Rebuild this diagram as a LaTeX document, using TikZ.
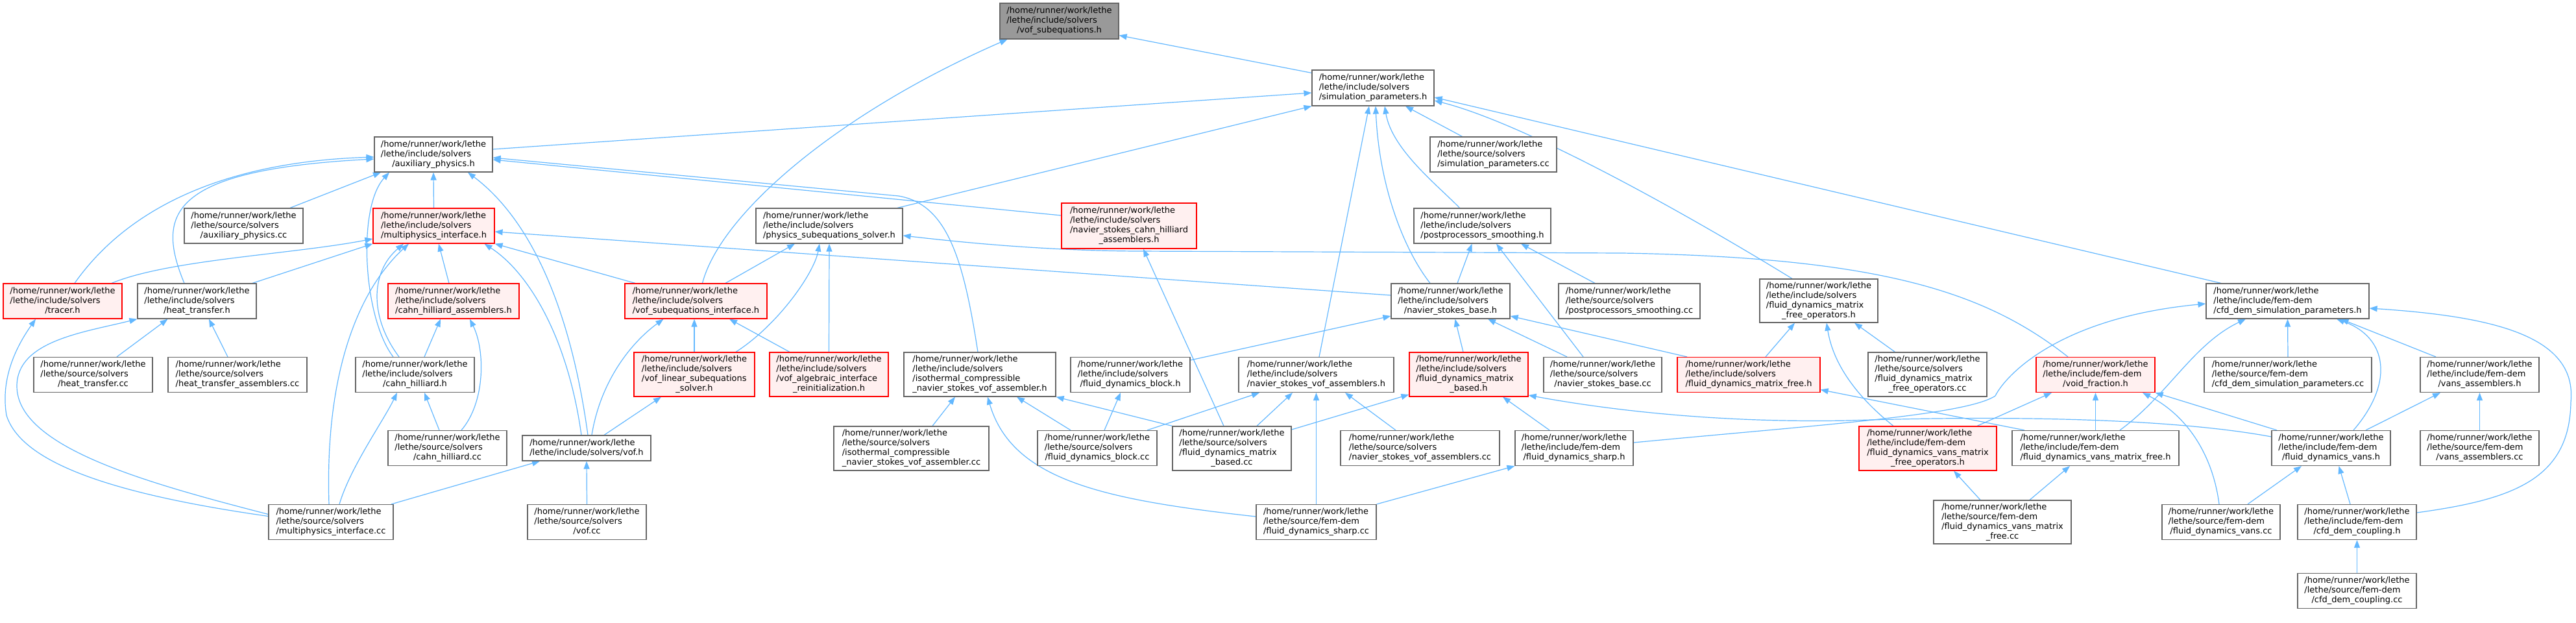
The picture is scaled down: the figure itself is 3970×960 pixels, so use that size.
\documentclass[tikz,border=0pt]{standalone}
\usepackage{fontspec}
\setmainfont{DejaVu Sans}
\usetikzlibrary{arrows.meta}
\definecolor{edgec}{HTML}{63B8FF}
\definecolor{nodeborder}{HTML}{666666}
\definecolor{redfill}{HTML}{FFF0F0}
\definecolor{redborder}{HTML}{FF0000}
\definecolor{rootfill}{HTML}{999999}
\newcommand{\Lhome}{/home/runner/work/lethe}
\newcommand{\Lincs}{/lethe/include/solvers}
\newcommand{\Lsrcs}{/lethe/source/solvers}
\newcommand{\Lincf}{/lethe/include/fem-dem}
\newcommand{\Lsrcf}{/lethe/source/fem-dem}
\newcommand{\Lbl}[2]{\begin{tabular}{@{}l@{}}#1\\\multicolumn{1}{@{}c@{}}{#2}\end{tabular}}
\pgfdeclarelayer{bg}
\pgfsetlayers{bg,main}
\tikzset{
  box/.style={rectangle, draw=nodeborder, fill=white, line width=1.2pt, inner sep=0pt,
    font=\fontsize{13}{15}\selectfont, minimum height=54pt},
  redbox/.style={box, draw=redborder, fill=redfill},
  rootbox/.style={box, fill=rootfill},
  fourl/.style={minimum height=68pt},
  edge/.style={draw=edgec, line width=1.2pt, -{Triangle[length=12pt,width=9pt]}},
}
\begin{document}
\begin{tikzpicture}[x=1pt,y=-1pt]
\useasboundingbox (0,0) rectangle (3970,960);
% ---------------- nodes ----------------
\node[rootbox, minimum width=183pt, minimum height=55pt] (vofsub) at (1632.5,32.5) {\Lbl{\Lhome\\\Lincs}{/vof\_subequations.h}};
\node[box, minimum width=188pt, minimum height=55pt] (simparams) at (2116,135.5) {\Lbl{\Lhome\\\Lincs}{/simulation\_parameters.h}};
\node[box, minimum width=182pt] (aux) at (668,238) {\Lbl{\Lhome\\\Lincs}{/auxiliary\_physics.h}};
\node[box, minimum width=195pt] (simparamscc) at (2301.5,238) {\Lbl{\Lhome\\\Lsrcs}{/simulation\_parameters.cc}};
\node[box, minimum width=183pt] (auxcc) at (375.5,348) {\Lbl{\Lhome\\\Lsrcs}{/auxiliary\_physics.cc}};
\node[redbox, minimum width=187pt] (multi) at (668.5,348) {\Lbl{\Lhome\\\Lincs}{/multiphysics\_interface.h}};
\node[box, minimum width=226pt] (physsub) at (1278,348) {\Lbl{\Lhome\\\Lincs}{/physics\_subequations\_solver.h}};
\node[redbox, minimum width=208pt, minimum height=70pt] (nsch) at (1740,348) {\Lbl{\Lhome\\\Lincs\\/navier\_stokes\_cahn\_hilliard}{\_assemblers.h}};
\node[box, minimum width=211pt] (postsmooth) at (2284.5,348) {\Lbl{\Lhome\\\Lincs}{/postprocessors\_smoothing.h}};
\node[redbox, minimum width=183pt] (tracer) at (96.5,464) {\Lbl{\Lhome\\\Lincs}{/tracer.h}};
\node[box, minimum width=183pt] (heat) at (303.5,464) {\Lbl{\Lhome\\\Lincs}{/heat\_transfer.h}};
\node[redbox, minimum width=202pt] (chassem) at (699,464) {\Lbl{\Lhome\\\Lincs}{/cahn\_hilliard\_assemblers.h}};
\node[redbox, minimum width=219pt] (vofsubint) at (1072.5,464) {\Lbl{\Lhome\\\Lincs}{/vof\_subequations\_interface.h}};
\node[box, minimum width=183pt] (nsbase) at (2235.5,464) {\Lbl{\Lhome\\\Lincs}{/navier\_stokes\_base.h}};
\node[box, minimum width=218pt] (postsmoothcc) at (2511,464) {\Lbl{\Lhome\\\Lsrcs}{/postprocessors\_smoothing.cc}};
\node[box, fourl, minimum width=182pt, minimum height=67pt] (fdmfo) at (2803,463.5) {\Lbl{\Lhome\\\Lincs\\/fluid\_dynamics\_matrix}{\_free\_operators.h}};
\node[box, minimum width=251pt] (cfddemsp) at (3525.5,464) {\Lbl{\Lhome\\\Lincf}{/cfd\_dem\_simulation\_parameters.h}};
\node[box, minimum width=183pt] (heatcc) at (143.5,577.5) {\Lbl{\Lhome\\\Lsrcs}{/heat\_transfer.cc}};
\node[box, minimum width=214pt] (heatassemcc) at (366,577.5) {\Lbl{\Lhome\\\Lsrcs}{/heat\_transfer\_assemblers.cc}};
\node[box, minimum width=183pt] (chh) at (639.5,577.5) {\Lbl{\Lhome\\\Lincs}{/cahn\_hilliard.h}};
\node[redbox, fourl, minimum width=186pt] (voflin) at (1070,577) {\Lbl{\Lhome\\\Lincs\\/vof\_linear\_subequations}{\_solver.h}};
\node[redbox, fourl, minimum width=183pt] (vofalg) at (1277.5,577) {\Lbl{\Lhome\\\Lincs\\/vof\_algebraic\_interface}{\_reinitialization.h}};
\node[box, fourl, minimum width=234pt] (isoh) at (1510,577) {\Lbl{\Lhome\\\Lincs\\/isothermal\_compressible}{\_navier\_stokes\_vof\_assembler.h}};
\node[box, minimum width=184pt] (fdblock) at (1742,577.5) {\Lbl{\Lhome\\\Lincs}{/fluid\_dynamics\_block.h}};
\node[box, minimum width=239pt] (nsvofh) at (2028.5,577.5) {\Lbl{\Lhome\\\Lincs}{/navier\_stokes\_vof\_assemblers.h}};
\node[redbox, fourl, minimum width=183pt] (fdmb) at (2263.5,577) {\Lbl{\Lhome\\\Lincs\\/fluid\_dynamics\_matrix}{\_based.h}};
\node[box, minimum width=182pt] (nsbasecc) at (2470,577.5) {\Lbl{\Lhome\\\Lsrcs}{/navier\_stokes\_base.cc}};
\node[redbox, minimum width=220pt] (fdmf) at (2695,577.5) {\Lbl{\Lhome\\\Lincs}{/fluid\_dynamics\_matrix\_free.h}};
\node[box, fourl, minimum width=183pt] (fdmfocc) at (2970.5,577) {\Lbl{\Lhome\\\Lsrcs\\/fluid\_dynamics\_matrix}{\_free\_operators.cc}};
\node[redbox, minimum width=183pt] (voidf) at (3229.5,577.5) {\Lbl{\Lhome\\\Lincf}{/void\_fraction.h}};
\node[box, minimum width=258pt] (cfddemspcc) at (3526,577.5) {\Lbl{\Lhome\\\Lsrcf}{/cfd\_dem\_simulation\_parameters.cc}};
\node[box, minimum width=183pt] (vansassh) at (3821.5,577.5) {\Lbl{\Lhome\\\Lincf}{/vans\_assemblers.h}};
\node[box, minimum width=183pt] (chcc) at (689.5,690.5) {\Lbl{\Lhome\\\Lsrcs}{/cahn\_hilliard.cc}};
\node[box, minimum width=198pt, minimum height=39pt] (vofh) at (904,690.5) {\Lbl{\Lhome}{/lethe/include/solvers/vof.h}};
\node[box, fourl, minimum width=239pt] (isocc) at (1404.5,691) {\Lbl{\Lhome\\\Lsrcs\\/isothermal\_compressible}{\_navier\_stokes\_vof\_assembler.cc}};
\node[box, minimum width=184pt] (fdblockcc) at (1691,690.5) {\Lbl{\Lhome\\\Lsrcs}{/fluid\_dynamics\_block.cc}};
\node[box, fourl, minimum width=183pt] (fdmbcc) at (1898.5,691) {\Lbl{\Lhome\\\Lsrcs\\/fluid\_dynamics\_matrix}{\_based.cc}};
\node[box, minimum width=245pt] (nsvofcc) at (2188.5,690.5) {\Lbl{\Lhome\\\Lsrcs}{/navier\_stokes\_vof\_assemblers.cc}};
\node[box, minimum width=182pt] (fdsharph) at (2426,690.5) {\Lbl{\Lhome\\\Lincf}{/fluid\_dynamics\_sharp.h}};
\node[redbox, fourl, minimum width=212pt] (fdvmfo) at (2971,691) {\Lbl{\Lhome\\\Lincf\\/fluid\_dynamics\_vans\_matrix}{\_free\_operators.h}};
\node[box, minimum width=257pt] (fdvmf) at (3229.5,690.5) {\Lbl{\Lhome\\\Lincf}{/fluid\_dynamics\_vans\_matrix\_free.h}};
\node[box, minimum width=183pt] (fdvansh) at (3592.5,690.5) {\Lbl{\Lhome\\\Lincf}{/fluid\_dynamics\_vans.h}};
\node[box, minimum width=183pt] (vansasscc) at (3821.5,690.5) {\Lbl{\Lhome\\\Lsrcf}{/vans\_assemblers.cc}};
\node[box, minimum width=192pt] (multicc) at (510,804.5) {\Lbl{\Lhome\\\Lsrcs}{/multiphysics\_interface.cc}};
\node[box, minimum width=183pt] (vofcc) at (904.5,804.5) {\Lbl{\Lhome\\\Lsrcs}{/vof.cc}};
\node[box, minimum width=185pt] (fdsharpcc) at (2028.5,804.5) {\Lbl{\Lhome\\\Lsrcf}{/fluid\_dynamics\_sharp.cc}};
\node[box, fourl, minimum width=212pt, minimum height=67pt] (fdvmfcc) at (3086,804.5) {\Lbl{\Lhome\\\Lsrcf\\/fluid\_dynamics\_vans\_matrix}{\_free.cc}};
\node[box, minimum width=182pt] (fdvanscc) at (3423,804.5) {\Lbl{\Lhome\\\Lsrcf}{/fluid\_dynamics\_vans.cc}};
\node[box, minimum width=183pt] (cfdcoupleh) at (3632.5,804.5) {\Lbl{\Lhome\\\Lincf}{/cfd\_dem\_coupling.h}};
\node[box, minimum width=183pt] (cfdcouplecc) at (3632.5,910.5) {\Lbl{\Lhome\\\Lsrcf}{/cfd\_dem\_coupling.cc}};
% ---------------- edges ----------------
\begin{pgfonlayer}{bg}
\fill[white] (0,0) rectangle (3970,960);
\draw[edge] ([yshift=-5pt]simparams.north west) -- ([yshift=-22pt]vofsub.east);
\draw[edge] ([xshift=10pt]vofsubint.north) .. controls (1110,330) and (1290,175) .. ([xshift=-80pt]vofsub.south);
\draw[edge] ([yshift=8pt]aux.east) -- ([yshift=-7.5pt]simparams.west);
\draw[edge] ([xshift=105pt]physsub.north) -- (simparams.south west);
\draw[edge] ([xshift=-48pt]simparamscc.north) -- ([xshift=50pt]simparams.south);
\draw[edge] ([xshift=-35pt]postsmooth.north) .. controls (2215,285) and (2145,230) .. ([xshift=18pt]simparams.south);
\draw[edge] ([xshift=-31.5pt]nsbase.north) .. controls (2160,380) and (2125,280) .. ([xshift=4pt]simparams.south);
\draw[edge] ([xshift=4.5pt]nsvofh.north) -- ([xshift=-6pt]simparams.south);
\draw[edge] ([xshift=-41pt]fdmfo.north) .. controls (2600,330) and (2350,190) .. ([yshift=-19.5pt]simparams.east);
\draw[edge] ([xshift=-102.5pt]cfddemsp.north) -- ([yshift=-14.5pt]simparams.east);
% into aux
\draw[edge] ([xshift=71.5pt]auxcc.north) -- ([xshift=-81pt]aux.south);
\draw[edge] (multi.north) -- (aux.south);
\draw[edge] ([xshift=18.5pt]tracer.north) .. controls (190,330) and (330,250) .. ([yshift=-4pt]aux.west);
\draw[edge] ([xshift=-19.5pt]heat.north) .. controls (240,330) and (260,262) .. ([yshift=-7pt]aux.west);
\draw[edge] ([xshift=-33.5pt]chh.north) .. controls (560,490) and (550,320) .. ([xshift=-68pt]aux.south);
\draw[edge] ([xshift=2pt]vofh.north) .. controls (880,480) and (820,340) .. ([xshift=53pt]aux.south);
\draw[edge] ([yshift=16pt]nsch.west) -- ([yshift=-8pt]aux.east);
\draw[edge] ([xshift=-3pt]isoh.north) .. controls (1485,400) and (1460,315) .. (1385,302) -- ([yshift=-5pt]aux.east);
% into multi
\draw[edge] ([xshift=75.5pt]tracer.north) .. controls (260,400) and (450,392) .. ([yshift=-20pt]multi.west);
\draw[edge] ([xshift=85.5pt]heat.north) -- (multi.south west);
\draw[edge] ([xshift=-7pt]chassem.north) -- ([xshift=7.5pt]multi.south);
\draw[edge] ([xshift=-93.5pt]vofsubint.north) -- (multi.south east);
\draw[edge] ([yshift=9pt]nsbase.west) -- ([yshift=-9pt]multi.east);
\draw[edge] ([xshift=-24.5pt]chh.north) .. controls (570,490) and (570,420) .. ([xshift=-46.5pt]multi.south);
\draw[edge] ([xshift=-8pt]vofh.north) .. controls (875,520) and (815,420) .. ([xshift=78pt]multi.south);
\draw[edge] ([xshift=-3pt]multicc.north) .. controls (500,560) and (560,440) .. ([xshift=-38.5pt]multi.south);
% into physsub
\draw[edge] ([xshift=45.5pt]vofsubint.north) -- ([xshift=-53pt]physsub.south);
\draw[edge] ([xshift=64pt]voflin.north) .. controls (1200,500) and (1255,420) .. ([xshift=-15pt]physsub.south);
\draw[edge] (vofalg.north) -- (physsub.south);
\draw[edge] ([xshift=-42.5pt]voidf.north) .. controls (3060,450) and (2900,397) .. (2500,390) -- (1750,387) .. controls (1600,386) and (1470,372) .. ([yshift=-15pt]physsub.east);
% heat / tracer
\draw[edge] ([xshift=36.5pt]heatcc.north) -- ([xshift=-45pt]heat.south);
\draw[edge] ([xshift=-15pt]heatassemcc.north) -- ([xshift=18.5pt]heat.south);
\draw[edge] ([yshift=12pt]multicc.west) .. controls (230,745) and (26,690) .. (26,595) .. controls (26,525) and (130,512) .. (heat.south west);
\draw[edge] ([yshift=9pt]multicc.west) .. controls (200,765) and (35,720) .. (10,640) .. controls (0,580) and (28,530) .. ([xshift=-41.5pt]tracer.south);
% cahn hilliard
\draw[edge] ([xshift=14.5pt]chh.north) -- ([xshift=-20pt]chassem.south);
\draw[edge] ([xshift=21.5pt]chcc.north) .. controls (748,620) and (748,540) .. ([xshift=25pt]chassem.south);
\draw[edge] ([xshift=-12.5pt]chcc.north) -- ([xshift=14.5pt]chh.south);
\draw[edge] ([xshift=13pt]multicc.north) .. controls (540,720) and (590,650) .. ([xshift=-27.5pt]chh.south);
% vof
\draw[edge] (voflin.north) -- ([xshift=-2.5pt]vofsubint.south);
\draw[edge] ([xshift=-60.5pt]vofalg.north) -- ([xshift=51.5pt]vofsubint.south);
\draw[edge] ([xshift=8pt]vofh.north) .. controls (925,590) and (970,530) .. ([xshift=-50pt]vofsubint.south);
\draw[edge] ([xshift=27pt]vofh.north) -- ([xshift=-51pt]voflin.south);
\draw[edge] ([xshift=93pt]multicc.north) -- ([xshift=-72pt]vofh.south);
\draw[edge] (vofcc.north) -- (vofh.south);
% isothermal
\draw[edge] ([xshift=32.5pt]isocc.north) -- ([xshift=-38pt]isoh.south);
\draw[edge] ([xshift=-41pt]fdblockcc.north) -- ([xshift=57pt]isoh.south);
\draw[edge] (fdmbcc.north west) -- (isoh.south east);
\draw[edge] ([yshift=8.5pt]fdsharpcc.west) .. controls (1700,770) and (1560,740) .. ([xshift=12pt]isoh.south);
% fluid dynamics block / nsvof
\draw[edge] ([xshift=11pt]fdblockcc.north) -- ([xshift=-15pt]fdblock.south);
\draw[edge] ([xshift=77pt]fdblockcc.north) -- ([xshift=-87.5pt]nsvofh.south);
\draw[edge] ([xshift=38.5pt]fdmbcc.north) -- ([xshift=-36.5pt]nsvofh.south);
\draw[edge] ([xshift=-37.5pt]nsvofcc.north) -- ([xshift=44.5pt]nsvofh.south);
\draw[edge] (fdsharpcc.north) -- (nsvofh.south);
\draw[edge] ([xshift=-12.5pt]fdmbcc.north) -- ([xshift=22pt]nsch.south);
\draw[edge] ([yshift=29pt]fdmbcc.east) -- ([yshift=-31pt]fdmb.west);
% navier stokes base
\draw[edge] ([yshift=22.5pt]fdblock.east) -- ([yshift=-23pt]nsbase.west);
\draw[edge] ([xshift=-8.5pt]fdmb.north) -- ([xshift=7pt]nsbase.south);
\draw[edge] ([xshift=-55pt]nsbasecc.north) -- ([xshift=57.5pt]nsbase.south);
\draw[edge] ([xshift=-95pt]fdmf.north) -- ([yshift=-23pt]nsbase.east);
% postprocessors
\draw[edge] ([xshift=10.5pt]nsbase.north) -- ([xshift=-16pt]postsmooth.south);
\draw[edge] ([xshift=-30pt]nsbasecc.north) -- ([xshift=21.5pt]postsmooth.south);
\draw[edge] ([xshift=-53pt]postsmoothcc.north) -- ([xshift=59.5pt]postsmooth.south);
% matrix based / free
\draw[edge] ([xshift=-38pt]fdsharph.north) -- ([xshift=52.5pt]fdmb.south);
\draw[edge] ([yshift=17.5pt]fdvansh.west) .. controls (3350,645) and (3100,640) .. (2850,648) .. controls (2650,652) and (2480,632) .. ([yshift=-32pt]fdmb.east);
\draw[edge] (fdsharpcc.north east) -- (fdsharph.south west);
\draw[edge] ([xshift=26pt]fdmf.north) -- ([xshift=-37pt]fdmfo.south);
\draw[edge] ([xshift=-53pt]fdvmfo.north) .. controls (2860,610) and (2825,560) .. ([xshift=12pt]fdmfo.south);
\draw[edge] ([xshift=-50pt]fdmfocc.north) -- ([xshift=55pt]fdmfo.south);
\draw[edge] ([xshift=-109.5pt]fdvmf.north) -- ([yshift=-23pt]fdmf.east);
% cfd dem simulation parameters
\draw[edge] ([yshift=8.5pt]fdsharph.east) .. controls (2800,655) and (3030,640) .. (3075,610) .. controls (3090,580) and (3170,490) .. ([yshift=-4pt]cfddemsp.west);
\draw[edge] ([xshift=37.5pt]fdvmf.north) .. controls (3340,610) and (3380,530) .. ([xshift=-64.5pt]cfddemsp.south);
\draw[edge] (cfddemspcc.north) -- (cfddemsp.south);
\draw[edge] ([xshift=34.5pt]fdvansh.north) .. controls (3690,590) and (3680,520) .. ([xshift=75.5pt]cfddemsp.south);
\draw[edge] ([xshift=-67.5pt]vansassh.north) -- ([xshift=82pt]cfddemsp.south);
\draw[edge] ([yshift=14.5pt]cfdcoupleh.east) .. controls (3870,770) and (3960,740) .. (3962,620) .. controls (3972,520) and (3850,488) .. ([yshift=-11pt]cfddemsp.east);
% void fraction
\draw[edge] ([xshift=76pt]fdvmfo.north) -- ([xshift=-67.5pt]voidf.south);
\draw[edge] (fdvmf.north) -- (voidf.south);
\draw[edge] ([xshift=-3pt]fdvanscc.north) .. controls (3410,700) and (3370,640) .. ([xshift=72.5pt]voidf.south);
\draw[edge] ([xshift=-83.5pt]fdvansh.north) -- (voidf.south east);
% vans
\draw[edge] ([xshift=53.5pt]fdvansh.north) -- ([xshift=-60.5pt]vansassh.south);
\draw[edge] (vansasscc.north) -- (vansassh.south);
\draw[edge] ([xshift=41pt]fdvanscc.north) -- ([xshift=-45.5pt]fdvansh.south);
\draw[edge] ([xshift=-10.5pt]cfdcoupleh.north) -- ([xshift=12pt]fdvansh.south);
\draw[edge] ([xshift=-34pt]fdvmfcc.north) -- ([xshift=40pt]fdvmfo.south);
\draw[edge] ([xshift=42pt]fdvmfcc.north) -- ([xshift=-39.5pt]fdvmf.south);
\draw[edge] (cfdcouplecc.north) -- (cfdcoupleh.south);
\end{pgfonlayer}
\end{tikzpicture}
\end{document}
